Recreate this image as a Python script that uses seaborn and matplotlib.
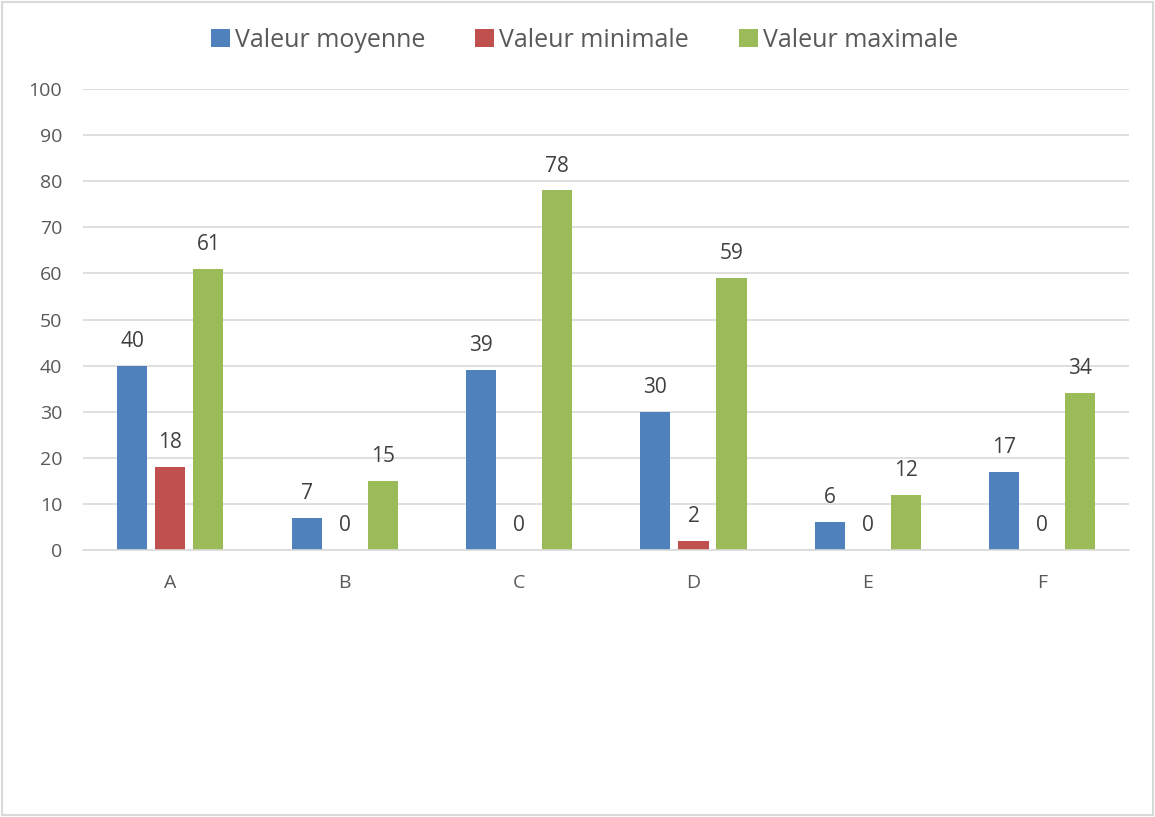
import matplotlib
matplotlib.use("Agg")
import matplotlib.pyplot as plt
import seaborn as sns
import pandas as pd

categories = ["A", "B", "C", "D", "E", "F"]
series_names = ["Valeur moyenne", "Valeur minimale", "Valeur maximale"]
moyenne = [40, 7, 39, 30, 6, 17]
minimale = [18, 0, 0, 2, 0, 0]
maximale = [61, 15, 78, 59, 12, 34]
y_ticks = [0, 10, 20, 30, 40, 50, 60, 70, 80, 90, 100]

colors = ["#4F81BD", "#C0504D", "#9BBB59"]

df = pd.DataFrame({
    "cat": categories * 3,
    "serie": [series_names[0]] * 6 + [series_names[1]] * 6 + [series_names[2]] * 6,
    "val": moyenne + minimale + maximale,
})

sns.set_theme(style="white")
plt.rcParams["font.family"] = ["Open Sans", "DejaVu Sans"]

fig = plt.figure(figsize=(11.55, 8.17), dpi=100)
ax = fig.add_axes([0.0719, 0.3268, 0.906, 0.5642])

sns.barplot(data=df, x="cat", y="val", hue="serie", palette=colors,
            width=0.655, gap=0.21, ax=ax, saturation=1, legend=True,
            edgecolor="none")

ax.set_ylim(0, 100)
ax.set_xlim(-0.5, 5.5)
ax.set_yticks(y_ticks)
ax.yaxis.grid(True, color="#D9D9D9", linewidth=1.2)
ax.set_axisbelow(True)
for s in ["top", "right", "left"]:
    ax.spines[s].set_visible(False)
ax.spines["bottom"].set_color("#D9D9D9")
ax.spines["bottom"].set_linewidth(1.2)
ax.tick_params(axis="y", length=0, labelsize=14, labelcolor="#595959", pad=15)
ax.tick_params(axis="x", length=0, labelsize=14, labelcolor="#595959", pad=17)
ax.set_xlabel("")
ax.set_ylabel("")

for cont in ax.containers:
    ax.bar_label(cont, fmt="%g", padding=10, fontsize=15, color="#404040")

handles, labels = ax.get_legend_handles_labels()
ax.legend_.remove()
fig.legend(handles, labels, loc="center", bbox_to_anchor=(0.506, 0.951), ncol=3,
           frameon=False, fontsize=18, labelcolor="#595959", handlelength=0.75,
           handleheight=0.75, handletextpad=0.2, columnspacing=2.0)

border = plt.Rectangle((0.002, 0.002), 0.996, 0.996, transform=fig.transFigure,
                       fill=False, edgecolor="#D9D9D9", linewidth=1.5)
fig.patches.append(border)

fig.savefig("out.png", dpi=100)
